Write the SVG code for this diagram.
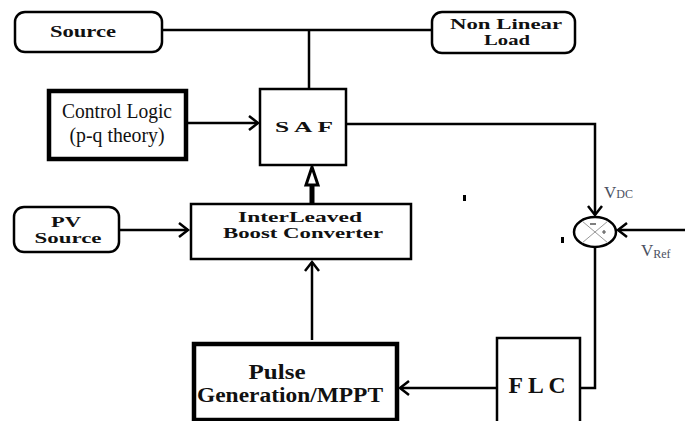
<svg xmlns="http://www.w3.org/2000/svg" width="685" height="421" viewBox="0 0 685 421">
<style>
.bx{fill:#fff;stroke:#000;stroke-width:2.5}
.thick{fill:#fff;stroke:#000;stroke-width:4.5}
.ln{fill:none;stroke:#000;stroke-width:2.5}
.tb{font-family:'Liberation Serif','DejaVu Serif',serif;font-weight:bold;fill:#111;text-anchor:middle}
.tn{font-family:'Liberation Serif','DejaVu Serif',serif;fill:#111;text-anchor:middle}
.lbl{font-family:'Liberation Serif','DejaVu Serif',serif;fill:#4a5060}
</style>
<defs>
<marker id="ah" markerUnits="userSpaceOnUse" markerWidth="14" markerHeight="16" refX="11" refY="8" orient="auto">
<path d="M2,1 L11,8 L2,15" fill="none" stroke="#000" stroke-width="2.5"/>
</marker>
</defs>
<rect width="685" height="421" fill="#fff"/>
<g id="connectors">
<path class="ln" d="M162,30 H432" stroke-width="2"/>
<path class="ln" d="M309,30 V88"/>
<path class="ln" d="M187,123 H258" stroke-width="4" marker-end="url(#ah)"/>
<path class="ln" d="M347,124 H595 V215" marker-end="url(#ah)"/>
<path class="ln" d="M685,230 H618" marker-end="url(#ah)"/>
<path class="ln" d="M595,248 V388 H580"/>
<path class="ln" d="M497,388 H400" marker-end="url(#ah)"/>
<path class="ln" d="M312,340 V262" stroke-width="3" marker-end="url(#ah)"/>
<path class="ln" d="M120,230 H188" marker-end="url(#ah)"/>
<path d="M312,203 V184" stroke="#000" stroke-width="5"/>
<polygon points="312,167 318,185 306,185" fill="#fff" stroke="#000" stroke-width="3"/>
</g>
<g id="source">
<rect class="bx" x="15" y="12" width="147" height="40" rx="10"/>
<text class="tb" x="83" y="37" font-size="16" textLength="66" lengthAdjust="spacingAndGlyphs">Source</text>
</g>
<g id="nonlinearload">
<rect class="bx" x="432" y="12" width="143" height="41" rx="10"/>
<text class="tb" x="506" y="29" font-size="15" textLength="112" lengthAdjust="spacingAndGlyphs">Non Linear</text>
<text class="tb" x="507" y="45" font-size="15" textLength="46" lengthAdjust="spacingAndGlyphs">Load</text>
</g>
<g id="controllogic">
<rect class="thick" x="49" y="91" width="137" height="68"/>
<text class="tn" x="117" y="118" font-size="20" textLength="110" lengthAdjust="spacingAndGlyphs">Control Logic</text>
<text class="tn" x="117" y="142" font-size="20" textLength="95" lengthAdjust="spacingAndGlyphs">(p-q theory)</text>
</g>
<g id="saf">
<rect class="bx" x="260" y="89" width="86" height="76"/>
<text class="tb" x="304" y="132" font-size="15" textLength="58" lengthAdjust="spacingAndGlyphs">S A F</text>
</g>
<g id="interleaved">
<rect class="bx" x="191" y="204" width="220" height="55" stroke-width="3"/>
<text class="tb" x="300" y="222" font-size="15" textLength="124" lengthAdjust="spacingAndGlyphs">InterLeaved</text>
<text class="tb" x="303" y="238" font-size="15" textLength="160" lengthAdjust="spacingAndGlyphs">Boost Converter</text>
</g>
<g id="pvsource">
<rect class="bx" x="14" y="207" width="105" height="45" rx="10"/>
<text class="tb" x="66" y="227" font-size="15" textLength="30" lengthAdjust="spacingAndGlyphs">PV</text>
<text class="tb" x="68" y="243" font-size="15" textLength="67" lengthAdjust="spacingAndGlyphs">Source</text>
</g>
<g id="pulse">
<rect class="thick" x="194" y="344" width="203" height="76"/>
<text class="tb" x="277" y="379" font-size="20" textLength="57" lengthAdjust="spacingAndGlyphs">Pulse</text>
<text class="tb" x="290" y="402" font-size="20" textLength="186" lengthAdjust="spacingAndGlyphs">Generation/MPPT</text>
</g>
<g id="flc">
<rect class="bx" x="497" y="338" width="83" height="90"/>
<text class="tb" x="537" y="393" font-size="24" textLength="57" lengthAdjust="spacingAndGlyphs">F L C</text>
</g>
<g id="sum">
<ellipse cx="595" cy="232" rx="21" ry="15" fill="#fff" stroke="#000" stroke-width="2.5"/>
<path d="M582,221 L608,243 M608,221 L582,243" stroke="#999" stroke-width="1"/>
<path d="M590,224 H596" stroke="#555" stroke-width="1.5"/>
<path d="M602,232 H606 M604,230 V234" stroke="#555" stroke-width="1.2"/>
</g>
<g id="labels">
<text class="lbl" x="604" y="198" font-size="17">V<tspan font-size="12">DC</tspan></text>
<text class="lbl" x="641" y="256" font-size="17">V<tspan font-size="12" dy="2">Ref</tspan></text>
</g>
<rect x="463" y="195" width="3" height="6" fill="#000"/>
<rect x="561" y="237" width="3" height="6" fill="#000"/>
</svg>
